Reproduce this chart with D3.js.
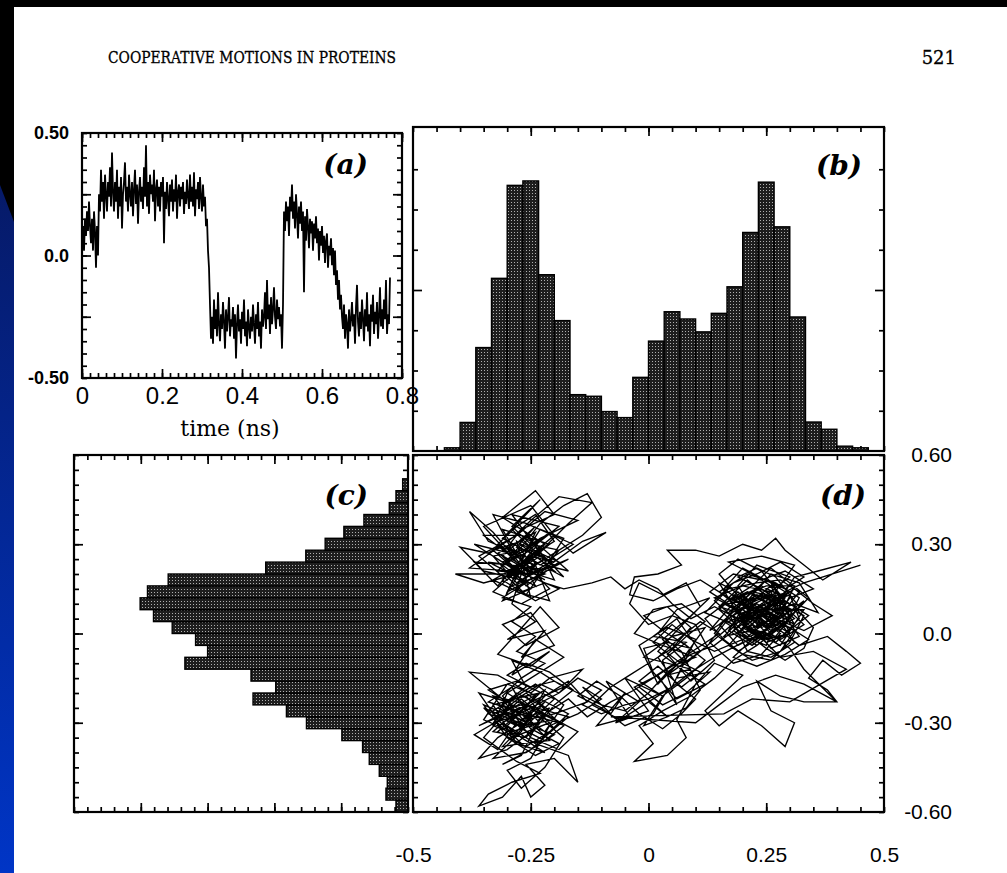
<!DOCTYPE html>
<html>
<head>
<meta charset="utf-8">
<script src="https://cdn.jsdelivr.net/npm/d3@7"></script>
<style>
html, body { margin: 0; padding: 0; background: #fff; }
svg { display: block; }
</style>
</head>
<body>
<svg id="fig" width="1007" height="873"></svg>
<script>
// (a) time series, one sample every 0.0025 ns
const traceStep = 0.0025;
const traceA = [
  0.05, 0.12, 0.02, 0.15, 0.08, 0.18, 0.10, 0.22, 0.12, 0.05,
  0.15, 0.02, 0.18, 0.10, -0.05, 0.12, 0.00, 0.25, 0.18, 0.35,
  0.22, 0.30, 0.15, 0.33, 0.25, 0.18, 0.30, 0.24, 0.36, 0.20,
  0.42, 0.26, 0.18, 0.30, 0.22, 0.35, 0.15, 0.28, 0.20, 0.32,
  0.11, 0.25, 0.30, 0.38, 0.22, 0.28, 0.18, 0.33, 0.25, 0.20,
  0.30, 0.16, 0.27, 0.35, 0.21, 0.29, 0.13, 0.26, 0.32, 0.22,
  0.28, 0.19, 0.36, 0.24, 0.45, 0.20, 0.30, 0.17, 0.33, 0.25,
  0.29, 0.22, 0.35, 0.14, 0.27, 0.31, 0.20, 0.28, 0.18, 0.30,
  0.24, 0.32, 0.05, 0.26, 0.19, 0.30, 0.23, 0.16, 0.29, 0.22,
  0.31, 0.18, 0.27, 0.22, 0.33, 0.15, 0.26, 0.29, 0.20, 0.28,
  0.23, 0.30, 0.17, 0.26, 0.21, 0.31, 0.24, 0.19, 0.33, 0.22,
  0.28, 0.20, 0.34, 0.16, 0.27, 0.23, 0.30, 0.19, 0.32, 0.24,
  0.18, 0.29, 0.20, 0.24, 0.12, 0.15, 0.02, -0.05, -0.20, -0.34,
  -0.25, -0.36, -0.18, -0.30, -0.22, -0.33, -0.15, -0.28, -0.35, -0.24,
  -0.30, -0.19, -0.27, -0.38, -0.22, -0.31, -0.25, -0.17, -0.33, -0.26,
  -0.29, -0.21, -0.34, -0.24, -0.42, -0.28, -0.20, -0.31, -0.26, -0.36,
  -0.23, -0.30, -0.18, -0.33, -0.27, -0.37, -0.22, -0.29, -0.34, -0.25,
  -0.31, -0.20, -0.28, -0.36, -0.24, -0.30, -0.19, -0.33, -0.27, -0.38,
  -0.22, -0.29, -0.25, -0.15, -0.30, -0.10, -0.26, -0.20, -0.32, -0.17,
  -0.28, -0.22, -0.13, -0.25, -0.30, -0.18, -0.26, -0.21, -0.29, -0.24,
  -0.38, -0.20, 0.18, 0.10, 0.22, 0.14, 0.20, 0.08, 0.24, 0.18,
  0.29, 0.15, 0.22, 0.11, 0.25, 0.17, 0.07, 0.20, 0.13, 0.22,
  0.10, 0.18, -0.15, 0.16, 0.06, 0.19, 0.12, 0.03, 0.15, 0.09,
  0.14, 0.02, 0.13, 0.07, 0.16, 0.05, 0.11, -0.02, 0.10, 0.04,
  0.12, 0.01, 0.08, -0.03, 0.06, 0.09, -0.05, 0.04, 0.00, 0.07,
  -0.04, 0.03, -0.08, 0.02, -0.12, -0.06, -0.18, -0.10, -0.22, -0.16,
  -0.25, -0.30, -0.20, -0.34, -0.24, -0.28, -0.38, -0.22, -0.31, -0.26,
  -0.19, -0.29, -0.24, -0.36, -0.21, -0.12, -0.27, -0.33, -0.23, -0.30,
  -0.18, -0.26, -0.35, -0.22, -0.29, -0.15, -0.31, -0.24, -0.37, -0.20,
  -0.27, -0.16, -0.32, -0.23, -0.28, -0.19, -0.34, -0.25, -0.13, -0.29,
  -0.22, -0.30, -0.18, -0.26, -0.10, -0.32, -0.24, -0.28, -0.09
];

// (b) histogram, 30 bins over -0.5..0.5 (height in tick units)
const histB = [0, 0, 0.08, 0.71, 2.57, 4.29, 6.60, 6.71, 4.38, 3.24,
  1.40, 1.36, 0.98, 0.83, 1.83, 2.73, 3.46, 3.28, 2.96, 3.42,
  4.08, 5.43, 6.68, 5.57, 3.33, 0.72, 0.54, 0.12, 0.08, 0];

// (c) histogram, 30 bins over -0.6..0.6 from the bottom up
const histC = [0.18, 0.33, 0.31, 0.43, 0.58, 0.68, 0.99, 1.52, 1.82, 2.32,
  1.98, 2.35, 3.34, 3.00, 3.18, 3.53, 3.81, 4.01, 3.90, 3.59,
  2.13, 1.53, 1.24, 0.96, 0.66, 0.28, 0.18, 0.08, 0, 0];

// (d) trajectory, in hundredths
const pathD = [
  [-27,22],[-21,30],[-31,35],[-24,16],[-34,24],[-20,21],[-28,31],[-25,12],[-33,18],[-23,27],
  [-29,40],[-19,36],[-27,26],[-37,30],[-26,19],[-17,25],[-30,14],[-24,34],[-32,27],[-22,18],
  [-28,24],[-35,36],[-25,43],[-20,33],[-29,21],[-38,22],[-31,30],[-23,23],[-16,30],[-26,37],
  [-33,40],[-29,28],[-21,15],[-27,10],[-33,14],[-25,25],[-18,19],[-24,29],[-30,18],[-36,26],
  [-28,33],[-22,41],[-15,38],[-23,32],[-30,24],[-26,16],[-19,24],[-27,30],[-32,21],[-24,20],
  [-41,20],[-35,17],[-28,20],[-22,25],[-26,34],[-31,39],[-24,48],[-20,40],[-27,35],[-30,29],
  [-25,22],[-20,27],[-14,33],[-10,39],[-13,47],[-18,43],[-23,37],[-28,27],[-34,31],[-38,41],
  [-33,34],[-27,23],[-22,20],[-29,16],[-24,11],[-19,15],[-25,19],[-31,24],[-26,28],[-21,34],
  [-16,27],[-9,34],[-14,31],[-21,23],[-27,18],[-35,21],[-40,29],[-34,27],[-29,32],[-25,38],
  [-19,46],[-12,44],[-17,37],[-24,26],[-30,21],[-25,15],[-31,11],[-26,24],[-22,30],[-28,36],
  [-32,30],[-26,21],[-20,18],[-24,31],[-29,25],[-23,19],[-27,28],[-33,26],[-28,17],[-22,23],
  [-17,21],[-22,28],[-27,33],[-35,33],[-30,27],[-24,23],[-28,14],[-21,11],[-25,27],[-31,32],
  [-26,40],[-23,45],[-29,36],[-25,30],[-19,28],[-24,18],[-29,23],[-37,24],[-32,16],[-27,25],
  [-23,35],[-18,32],[-22,22],[-26,13],[-30,19],[-25,26],[-20,24],[-28,29],[-24,36],[-31,26],
  [-27,20],[-29,10],[-24,4],[-30,-2],[-22,1],[-27,-8],[-20,-4],[-25,7],[-31,3],[-26,-4],
  [-19,2],[-23,9],[-28,0],[-32,-7],[-25,-11],[-21,-6],[-29,-14],[-24,-2],[-18,-8],[-26,-16],
  [-30,-20],[-24,-26],[-33,-30],[-27,-22],[-21,-30],[-29,-35],[-35,-25],[-26,-31],[-20,-22],[-28,-16],
  [-34,-19],[-25,-28],[-31,-38],[-23,-36],[-17,-28],[-26,-24],[-36,-31],[-30,-26],[-22,-19],[-27,-33],
  [-33,-42],[-26,-40],[-20,-34],[-29,-29],[-24,-21],[-32,-14],[-38,-13],[-31,-22],[-25,-35],[-19,-39],
  [-15,-33],[-22,-27],[-29,-24],[-35,-35],[-28,-43],[-23,-47],[-29,-50],[-34,-54],[-36,-58],[-31,-55],
  [-27,-48],[-25,-55],[-22,-51],[-26,-44],[-20,-42],[-15,-50],[-17,-41],[-24,-37],[-30,-31],[-25,-23],
  [-18,-18],[-23,-13],[-29,-9],[-26,-18],[-32,-25],[-27,-29],[-21,-25],[-26,-35],[-33,-33],[-28,-26],
  [-22,-33],[-18,-24],[-24,-17],[-30,-23],[-36,-20],[-32,-29],[-27,-37],[-21,-36],[-25,-30],[-31,-27],
  [-28,-20],[-23,-24],[-19,-30],[-26,-27],[-34,-23],[-29,-18],[-24,-32],[-30,-39],[-36,-42],[-32,-35],
  [-26,-29],[-20,-27],[-13,-23],[-17,-16],[-22,-21],[-28,-31],[-33,-27],[-27,-24],[-23,-30],[-29,-33],
  [-35,-29],[-30,-17],[-25,-20],[-21,-15],[-14,-12],[-19,-20],[-25,-25],[-31,-30],[-27,-35],[-22,-40],
  [-28,-37],[-33,-24],[-26,-21],[-20,-32],[-25,-39],[-31,-44],[-27,-41],[-23,-28],[-29,-27],[-24,-22],
  [-37,-34],[-32,-39],[-28,-30],[-24,-27],[-18,-35],[-22,-45],[-27,-52],[-30,-46],[-25,-42],[-21,-31],
  [-15,-27],[-10,-22],[-14,-18],[-8,-27],[-5,-20],[-11,-31],[-4,-28],[-9,-16],[-2,-23],[-7,-30],
  [0,-26],[-5,-15],[3,-21],[-1,-31],[4,-28],[-3,-18],[2,-14],[6,-24],
  [3,-9],[8,-3],[1,-1],[6,5],[11,-6],[4,-14],[9,-12],[-1,-8],[5,-1],[12,2],
  [7,-9],[2,-17],[-2,-4],[4,2],[10,-2],[6,-15],[13,-13],[8,-20],[3,-24],[-2,-18],
  [5,-11],[10,-8],[3,-4],[-3,0],[1,8],[7,10],[12,4],[8,-1],[4,-7],[9,-16],
  [14,-9],[10,3],[5,6],[0,3],[-4,10],[-2,17],[3,13],[8,17],[11,9],[6,1],
  [2,-6],[7,-12],[12,-17],[6,-22],[1,-13],[-1,-5],[4,-3],[9,-5],[5,-18],[0,-23],
  [4,-28],[8,-25],[11,-19],[7,-6],[2,0],[6,8],[13,12],[9,6],[3,-2],[8,-10],
  [14,-2],[20,6],[26,2],[18,12],[24,15],[30,8],[22,-3],[17,4],[27,10],[21,18],
  [15,9],[23,5],[29,14],[25,-4],[19,0],[24,10],[31,3],[26,17],[20,22],[16,15],
  [22,8],[28,5],[33,11],[27,-1],[21,2],[18,9],[25,13],[30,19],[23,23],[19,16],
  [24,4],[29,0],[34,6],[28,12],[22,14],[17,7],[21,-6],[26,-8],[31,-3],[27,6],
  [20,10],[15,3],[19,-4],[25,1],[30,12],[35,15],[29,21],[24,18],[18,20],[13,14],
  [17,10],[23,12],[28,8],[32,-1],[26,-5],[21,5],[25,9],[30,5],[27,15],[22,20],
  [17,24],[24,26],[31,23],[26,12],[21,7],[16,-1],[22,1],[28,-2],[33,3],[29,9],
  [23,7],[18,3],[12,7],[17,15],[23,17],[28,18],[32,14],[27,4],[22,-2],[18,-8],
  [23,-11],[29,-7],[34,-2],[30,2],[25,6],[20,13],[15,17],[20,4],[26,7],[31,10],
  [36,7],[32,17],[26,20],[21,11],[17,1],[22,-4],[27,2],[24,12],[19,8],[14,12],
  [20,16],[26,14],[30,0],[25,-2],[20,3],[24,8],[29,11],[24,21],[19,25],[15,20],
  [21,9],[27,8],[33,8],[28,-4],[23,0],[18,6],[13,1],[19,12],[25,16],[31,16],
  [28,6],[23,3],[26,11],[21,14],[16,10],[22,5],[27,-3],[32,5],[30,13],[25,10],
  [20,7],[24,2],[29,6],[26,16],[22,11],[18,13],[23,9],[27,13],[21,1],[25,4],
  [31,19],[36,21],[43,24],[37,18],[33,23],[29,28],[27,32],[24,28],[20,30],[15,26],
  [10,28],[4,28],[7,23],[2,20],[-3,19],[-4,13],[1,11],[6,15],[11,18],[16,13],
  [24,6],[32,-4],[38,-1],[42,-6],[45,-10],[41,-14],[37,-9],[34,-15],[38,-19],[40,-23],
  [33,-23],[28,-21],[23,-16],[26,-26],[31,-30],[29,-38],[24,-31],[19,-26],[15,-31],[12,-26],
  [16,-20],[20,-14],[14,-10],[10,-17],[6,-29],[8,-35],[4,-41],[-3,-43],[1,-37],[-2,-31],
  [3,-26],[9,-21],[14,-15],[18,-9],[23,-4],[27,1],
  [20,-3],[14,-8],[9,-13],[5,-18],[0,-22],[-5,-24],[-10,-27],[-14,-24],[-10,-19],[-15,-15],
  [-19,-20],[-23,-17],[-27,-21],
  [-31,-24],[-26,-28],[-22,-23],[-28,-34],[-33,-31],[-30,-20],[-24,-26],[-20,-29],[-27,-31],[-34,-27],
  [-29,-22],[-23,-20],[-27,-26],[-32,-33],[-26,-38],[-21,-33],[-17,-27],[-23,-22],[-29,-28],[-35,-24],
  [-30,-35],[-24,-41],[-19,-37],[-25,-32],[-31,-21],[-27,-15],[-22,-10],[-28,-6],[-24,-1],[-29,4],
  [-25,9],[-31,12],
  [-26,17],[-31,23],[-25,28],[-20,23],[-27,31],[-33,28],[-28,21],[-23,26],[-29,35],[-24,40],
  [-20,31],[-26,25],[-31,18],[-27,14],[-22,17],[-18,15],
  [-12,17],[-8,19],[-5,15],[-2,18],[2,15],
  [5,10],[9,5],[14,9],[19,5],[23,10],[27,6],[23,2],[19,7],[24,13],[28,9],
  [31,5],[26,1],[22,6],[19,12],[24,16],[29,12],[25,7],[21,2],[25,-3],[30,0],
  [26,4],[22,9],[18,11],[23,15],[27,11],[31,15],[35,10],[39,6],[33,1],[27,5],
  [24,9],[20,5],[28,-8],[35,-6],[42,-12],[30,-23],[22,-22],[16,-27],[-8,-28],[10,-30],
  [15,-24],[20,-18],[27,-14],[33,-17],[40,-23],[33,-12],[30,-5],[26,0],[23,5],
  [19,9],[15,14],[21,20],[27,17],[32,12],[29,3],[24,-1],[19,-6],[14,0],[18,8],
  [23,13],[28,10],[33,6],[30,-3],[26,-9],[20,-7],[16,-2],[12,5],[17,11],[22,16],
  [26,22],[30,17],[34,12],[31,7],[27,3],[23,8],[19,14],[15,8],[20,1],[25,-5],
  [29,-9],[33,-5],[35,2],[31,9],[26,13],[21,10],[17,5],[13,-3],[18,-10],[24,-7],
  [28,0],[24,5],[20,11],[25,18],[29,15],[33,19],[28,24],[23,20],[18,17],[14,11],
  [19,4],[23,-1],[27,4],[31,1],[28,-6],[22,-9],[17,-4],[21,3],[26,9],[30,14],
  [25,12],[20,8],[16,4],[21,-1],[26,5],[29,10],[24,15],[19,19],[23,22],[27,19],
  [32,9],[28,2],[23,-4],[18,1],[22,7],[27,12],[24,7],[20,2],[24,-2],[29,4],
  [14,-6],[9,-2],[5,3],[1,-3],[6,-9],[11,-13],[7,-18],[2,-11],[-2,-16],[3,-21],
  [8,-15],[12,-9],[8,-4],[3,1],[-1,6],[4,9],[9,2],[5,-5],[0,-10],[-4,-14],
  [-8,-18],[-12,-24],[-6,-29],[-1,-24],[4,-19],[1,-27],[-5,-31],[-10,-25],[-15,-21],[-11,-16],
  [-6,-21],[-2,-27],[3,-32],[7,-27],[10,-22],[6,-17],[2,-8],[7,-1],[11,4],[15,0],
  [-3,-19],[-8,-23],[-13,-28],[-17,-22],[-21,-26],[-26,-20],[-31,-26],[-27,-32],[-22,-36],[-18,-31],
  [-23,-26],[-28,-23],[-33,-21],[-29,-29],[-25,-34],[-20,-24],[-16,-19],[-21,-13],[-26,-10],[-30,-14],
  [-25,-18],[-20,-16],[-15,-20],[-10,-24],[-5,-26],[0,-20],[4,-13],[9,-7],[14,-4],[19,2],
  [23,7],[26,10],[22,13],[25,18],[29,14],[33,17],[45,23]
];

const aXTicks = [0, 0.2, 0.4, 0.6, 0.8];
const aXLabels = ["0", "0.2", "0.4", "0.6", "0.8"];
const aYTicks = [0.5, 0, -0.5];
const aYLabels = ["0.50", "0.0", "-0.50"];
const dXTicks = [-0.5, -0.25, 0, 0.25, 0.5];
const dXLabels = ["-0.5", "-0.25", "0", "0.25", "0.5"];
const dYTicks = [0.6, 0.3, 0, -0.3, -0.6];
const dYLabels = ["0.60", "0.30", "0.0", "-0.30", "-0.60"];

const sans = "'Liberation Sans', Arial, Helvetica, sans-serif";
const serif = "'DejaVu Serif', 'Liberation Serif', serif";

const svg = d3.select("#fig");
const defs = svg.append("defs");

const grad = defs.append("linearGradient").attr("id", "band")
    .attr("gradientUnits", "userSpaceOnUse")
    .attr("x1", 0).attr("y1", 185).attr("x2", 0).attr("y2", 873);
grad.append("stop").attr("offset", 0).attr("stop-color", "#061a68");
grad.append("stop").attr("offset", 1).attr("stop-color", "#0035c6");

// halftone fill of the printed bars
const pat = defs.append("pattern").attr("id", "dots")
    .attr("width", 3).attr("height", 3).attr("patternUnits", "userSpaceOnUse");
pat.append("rect").attr("width", 3).attr("height", 3).attr("fill", "#1e1e1e");
pat.append("rect").attr("x", 1).attr("y", 1).attr("width", 1).attr("height", 1).attr("fill", "#b0b0b0");

// slide background
svg.append("rect").attr("width", 1007).attr("height", 873).attr("fill", "#fff");
svg.append("rect").attr("width", 1007).attr("height", 7).attr("fill", "#000");
svg.append("rect").attr("width", 14).attr("height", 873).attr("fill", "#000");
svg.append("path").attr("d", "M0,185L14,222L14,873L0,873Z").attr("fill", "url(#band)");

svg.append("text").attr("x", 108).attr("y", 63)
    .attr("textLength", 288).attr("lengthAdjust", "spacingAndGlyphs")
    .attr("font-family", serif).attr("font-size", 16).attr("fill", "#000")
    .attr("stroke", "#000").attr("stroke-width", 0.3)
    .text("COOPERATIVE MOTIONS IN PROTEINS");
svg.append("text").attr("x", 956).attr("y", 64).attr("text-anchor", "end")
    .attr("font-family", serif).attr("font-size", 18).attr("fill", "#000")
    .attr("stroke", "#000").attr("stroke-width", 0.3)
    .text("521");

function ticks(orient, sc, at, vals, len) {
    const ax = {left: d3.axisLeft, right: d3.axisRight, top: d3.axisTop, bottom: d3.axisBottom}[orient];
    const tr = (orient === "left" || orient === "right") ? `translate(${at},0)` : `translate(0,${at})`;
    svg.append("g").attr("transform", tr)
        .call(ax(sc).tickValues(vals).tickSize(-len).tickFormat(""))
        .call(g => g.select(".domain").remove())
        .selectAll("line").attr("stroke", "#000").attr("stroke-width", 1.7);
}

function labels(orient, sc, at, vals, txt, pad, size) {
    const ax = {left: d3.axisLeft, right: d3.axisRight, bottom: d3.axisBottom}[orient];
    const tr = (orient === "left" || orient === "right") ? `translate(${at},0)` : `translate(0,${at})`;
    return svg.append("g").attr("transform", tr)
        .call(ax(sc).tickValues(vals).tickSize(0).tickPadding(pad).tickFormat((d, i) => txt[i]))
        .call(g => g.select(".domain").remove())
        .call(g => g.selectAll("text").attr("font-family", sans).attr("font-size", size).attr("fill", "#000"));
}

function frame(x0, y0, x1, y1) {
    svg.append("rect").attr("x", x0).attr("y", y0).attr("width", x1 - x0).attr("height", y1 - y0)
        .attr("fill", "none").attr("stroke", "#000").attr("stroke-width", 2.2);
}

function tag(x, y, s) {
    svg.append("text").attr("x", x).attr("y", y).attr("text-anchor", "end")
        .attr("font-family", serif).attr("font-style", "italic").attr("font-weight", "bold")
        .attr("font-size", 28).attr("fill", "#000").text(s);
}

// ---- (a)
const xA = d3.scaleLinear().domain([0, 0.8]).range([82, 402]);
const yA = d3.scaleLinear().domain([-0.5, 0.5]).range([378, 133]);
const aMinorX = d3.ticks(0, 0.8, 40), aMinorY = d3.ticks(-0.5, 0.5, 20);
ticks("bottom", xA, 378, aMinorX, 5); ticks("top", xA, 133, aMinorX, 5);
ticks("bottom", xA, 378, aXTicks, 9); ticks("top", xA, 133, aXTicks, 9);
ticks("left", yA, 82, aMinorY, 5); ticks("right", yA, 402, aMinorY, 5);
ticks("left", yA, 82, [-0.25, 0, 0.25], 9); ticks("right", yA, 402, [-0.25, 0, 0.25], 9);

svg.append("path")
    .datum(traceA)
    .attr("fill", "none").attr("stroke", "#000").attr("stroke-width", 1.8)
    .attr("d", d3.line().x((d, i) => xA(i * traceStep)).y(d => yA(d)));
frame(82, 133, 402, 378);
tag(368, 174, "(a)");
labels("left", yA, 82, aYTicks, aYLabels, 13, 18)
    .call(g => g.selectAll("text").attr("font-weight", "bold"));
labels("bottom", xA, 378, aXTicks, aXLabels, 9, 24);
svg.append("text").attr("x", 230).attr("y", 436).attr("text-anchor", "middle")
    .attr("font-family", serif).attr("font-size", 22).attr("fill", "#000")
    .text("time (ns)");

// ---- (b)
const xD = d3.scaleLinear().domain([-0.5, 0.5]).range([413, 884]);
const yB = d3.scaleLinear().domain([0, 8.05]).range([451, 127]);
const bEdges = d3.range(31).map(i => -0.5 + i / 30);
const dMinorX = d3.ticks(-0.5, 0.5, 20);
ticks("bottom", xD, 451, dMinorX, 5); ticks("top", xD, 127, dMinorX, 5);
ticks("bottom", xD, 451, [-0.25, 0, 0.25], 9); ticks("top", xD, 127, [-0.25, 0, 0.25], 9);
ticks("left", yB, 413, [1, 2, 3, 5, 6, 7], 5); ticks("right", yB, 884, [1, 2, 3, 5, 6, 7], 5);
ticks("left", yB, 413, [4], 9); ticks("right", yB, 884, [4], 9);

svg.append("g").selectAll("rect")
    .data(histB.map((v, i) => ({v, lo: bEdges[i], hi: bEdges[i + 1]})).filter(d => d.v > 0))
    .join("rect")
    .attr("x", d => xD(d.lo)).attr("width", d => xD(d.hi) - xD(d.lo))
    .attr("y", d => yB(d.v)).attr("height", d => yB(0) - yB(d.v))
    .attr("fill", "url(#dots)").attr("stroke", "#000").attr("stroke-width", 1.4);
frame(413, 127, 884, 451);
tag(862, 175, "(b)");

// ---- (c)
const yD = d3.scaleLinear().domain([-0.6, 0.6]).range([812, 455]);
const xC = d3.scaleLinear().domain([0, 5]).range([408, 74]);
const cEdges = d3.range(31).map(i => -0.6 + i * 0.04);
const dMinorY = d3.ticks(-0.6, 0.6, 24);
ticks("top", xC, 455, d3.ticks(0, 5, 25), 5); ticks("bottom", xC, 812, d3.ticks(0, 5, 25), 5);
ticks("top", xC, 455, [1, 2, 3, 4], 9); ticks("bottom", xC, 812, [1, 2, 3, 4], 9);
ticks("left", yD, 74, dMinorY, 5); ticks("right", yD, 408, dMinorY, 5);
ticks("left", yD, 74, [-0.3, 0, 0.3], 9); ticks("right", yD, 408, [-0.3, 0, 0.3], 9);

svg.append("g").selectAll("rect")
    .data(histC.map((v, i) => ({v, lo: cEdges[i], hi: cEdges[i + 1]})).filter(d => d.v > 0))
    .join("rect")
    .attr("x", d => xC(d.v)).attr("width", d => xC(0) - xC(d.v))
    .attr("y", d => yD(d.hi)).attr("height", d => yD(d.lo) - yD(d.hi))
    .attr("fill", "url(#dots)").attr("stroke", "#000").attr("stroke-width", 1.4);
frame(74, 455, 408, 812);
tag(368, 505, "(c)");

// ---- (d)
ticks("bottom", xD, 812, dMinorX, 5); ticks("top", xD, 455, dMinorX, 5);
ticks("bottom", xD, 812, [-0.25, 0, 0.25], 9); ticks("top", xD, 455, [-0.25, 0, 0.25], 9);
ticks("left", yD, 413, dMinorY, 5); ticks("right", yD, 884, dMinorY, 5);
ticks("left", yD, 413, [-0.3, 0, 0.3], 9); ticks("right", yD, 884, [-0.3, 0, 0.3], 9);

svg.append("path")
    .datum(pathD)
    .attr("fill", "none").attr("stroke", "#000").attr("stroke-width", 1.35)
    .attr("stroke-linejoin", "miter")
    .attr("d", d3.line().x(d => xD(d[0] / 100)).y(d => yD(d[1] / 100)));
frame(413, 455, 884, 812);
tag(866, 505, "(d)");

labels("right", yD, 884, dYTicks, dYLabels, 0, 21)
    .call(g => g.selectAll("text").attr("x", 68).attr("text-anchor", "end"));
labels("bottom", xD, 812, dXTicks, dXLabels, 35, 21);
</script>
</body>
</html>
